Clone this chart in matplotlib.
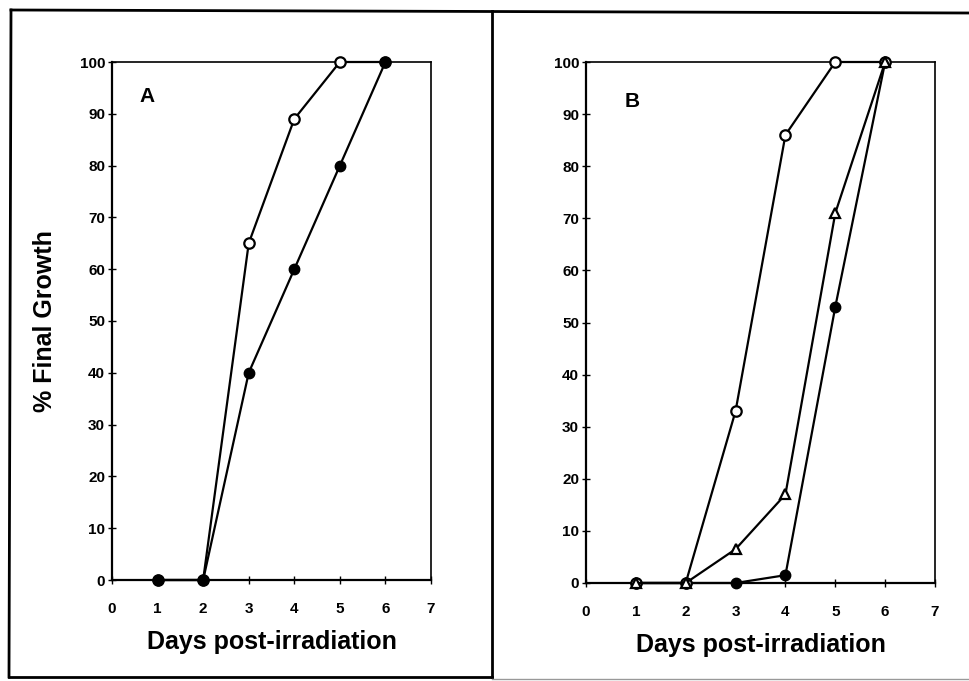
"""Two-panel growth curves: % final growth vs days post-irradiation."""

import matplotlib.pyplot as plt
from matplotlib.lines import Line2D

plt.rcParams["font.family"] = ["Liberation Sans", "DejaVu Sans"]
plt.rcParams["font.weight"] = "bold"

days = [1, 2, 3, 4, 5, 6]

# Panel A
a_open = [0, 0, 65, 89, 100, 100]
a_filled = [0, 0, 40, 60, 80, 100]

# Panel B
b_open = [0, 0, 33, 86, 100, 100]
b_triangle = [0, 0, 6.5, 17, 71, 100]
b_filled = [0, 0, 0, 1.5, 53, 100]

x_ticks = [0, 1, 2, 3, 4, 5, 6, 7]
y_ticks = [0, 10, 20, 30, 40, 50, 60, 70, 80, 90, 100]

W, H = 969, 681
fig = plt.figure(figsize=(W / 100, H / 100), dpi=100)


def frac_box(x0, y0, x1, y1):
    # pixel box (top-left origin) -> figure fraction rect
    return [x0 / W, 1 - y1 / H, (x1 - x0) / W, (y1 - y0) / H]


axA = fig.add_axes(frac_box(112, 62, 431, 580))
axB = fig.add_axes(frac_box(586, 62, 935, 583))

open_style = dict(color="black", lw=1.6, marker="o", markersize=7.5,
                  markerfacecolor="white", markeredgecolor="black",
                  markeredgewidth=1.6, clip_on=False)
fill_style = dict(color="black", lw=1.6, marker="o", markersize=7.5,
                  markerfacecolor="black", markeredgecolor="black",
                  clip_on=False)
tri_style = dict(color="black", lw=1.6, marker="^", markersize=7.5,
                 markerfacecolor="white", markeredgecolor="black",
                 markeredgewidth=1.6, clip_on=False)

# panel A: open curve below, filled curve on top
axA.plot(days, a_open, zorder=4, **open_style)
axA.plot(days, a_filled, zorder=5, **fill_style)

# panel B: filled at the back, then open, triangle in front
axB.plot(days, b_filled, zorder=4, **fill_style)
axB.plot(days, b_open, zorder=5, **open_style)
axB.plot(days, b_triangle, zorder=6, **tri_style)

for ax, letter, lx, ly in [(axA, "A", 0.085, 0.952), (axB, "B", 0.112, 0.942)]:
    ax.set_xlim(0, 7)
    ax.set_ylim(0, 100)
    ax.set_xticks(x_ticks)
    ax.set_yticks(y_ticks)
    ax.tick_params(axis="both", direction="inout", length=6, width=1,
                   labelsize=11)
    ax.tick_params(axis="x", pad=13)
    ax.tick_params(axis="y", pad=2)
    for lab in ax.get_xticklabels() + ax.get_yticklabels():
        lab.set_fontweight("bold")
    for s in ax.spines.values():
        s.set_linewidth(1.2)
    ax.spines["left"].set_linewidth(1.6)
    ax.spines["bottom"].set_linewidth(1.6)
    ax.set_xlabel("Days post-irradiation", fontsize=18, fontweight="bold",
                  labelpad=10)
    ax.text(lx, ly, letter, transform=ax.transAxes, fontsize=15,
            fontweight="bold", va="top", ha="left")

axA.set_ylabel("% Final Growth", fontsize=18, fontweight="bold", labelpad=16)

# ── Outer panel borders ─────────────────────────────────────────────────────
def px_line(xs, ys, lw=2.0, color="black"):
    fig.add_artist(Line2D([x / W for x in xs], [1 - y / H for y in ys],
                          transform=fig.transFigure, color=color, lw=lw))

px_line([11, 969], [10, 13])          # top
px_line([11, 9], [10, 677])           # left
px_line([9, 492], [677, 677])         # bottom of A
px_line([492, 492], [11, 677])        # divider
px_line([492, 969], [679, 679], lw=1.0, color="#999999")

fig.savefig("out.png", dpi=100)
